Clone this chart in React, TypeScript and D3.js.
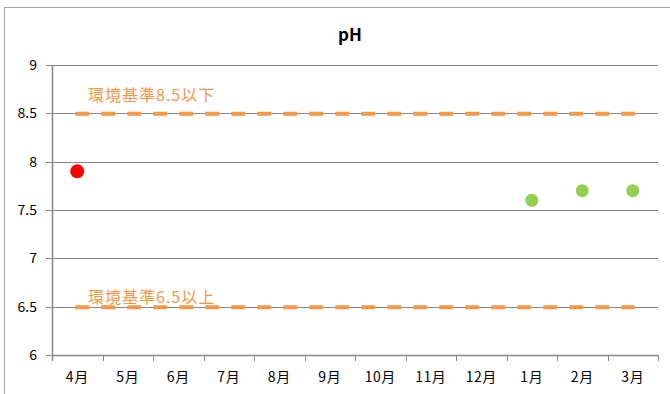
import React from "react";
import * as d3 from "d3";

const months = ["4月", "5月", "6月", "7月", "8月", "9月", "10月", "11月", "12月", "1月", "2月", "3月"];
const redPoints = [{ m: "4月", v: 7.9 }];
const greenPoints = [
  { m: "1月", v: 7.6 },
  { m: "2月", v: 7.7 },
  { m: "3月", v: 7.7 },
];
const yTicks = [6, 6.5, 7, 7.5, 8, 8.5, 9];
const standards = [
  { v: 8.5, label: "環境基準8.5以下" },
  { v: 6.5, label: "環境基準6.5以上" },
];
const title = "pH";

const W = 670;
const H = 394;
const plot = { left: 52, right: 658, top: 65, bottom: 355 };
const font = "'Noto Sans CJK JP', 'Noto Sans', sans-serif";
const gray = "#878787";
const orange = "#F79646";

export default function App() {
  const x = d3.scaleBand<string>().domain(months).range([plot.left, plot.right]);
  const y = d3.scaleLinear().domain([6, 9]).range([plot.bottom, plot.top]);
  const cx = (m: string) => (x(m) as number) + x.bandwidth() / 2;
  const bounds = [...months.map((m) => x(m) as number), plot.right];
  const lineStart = cx(months[0]) - 2;
  const lineEnd = cx(months[months.length - 1]) + 2;

  return (
    <svg width={W} height={H} style={{ position: "absolute", left: 0, top: 0 }}>
      <rect x={0} y={0} width={W} height={H} fill="#fff" />
      <rect x={4.5} y={7.5} width={720} height={420} fill="none" stroke="#a6a6a6" strokeWidth={1} />
      <text x={350} y={41} textAnchor="middle" fontFamily={font} fontWeight="bold" fontSize={17} fill="#000">
        {title}
      </text>
      {yTicks.map((t) => (
        <g key={t}>
          {t !== 6 && (
            <line x1={plot.left - 6} x2={plot.right} y1={Math.round(y(t)) + 0.5} y2={Math.round(y(t)) + 0.5} stroke={gray} strokeWidth={1} />
          )}
          {t === 6 && <line x1={plot.left - 6} x2={plot.left} y1={Math.round(y(t)) + 0.5} y2={Math.round(y(t)) + 0.5} stroke={gray} />}
          <text x={37} y={y(t) + 5} textAnchor="end" fontFamily={font} fontSize={14} fill="#000">
            {t}
          </text>
        </g>
      ))}
      <line x1={plot.left + 0.5} x2={plot.left + 0.5} y1={plot.top} y2={plot.bottom + 6} stroke={gray} strokeWidth={1.5} />
      <line x1={plot.left} x2={plot.right} y1={plot.bottom + 0.5} y2={plot.bottom + 0.5} stroke={gray} strokeWidth={1.5} />
      {bounds.map((b, i) => (
        <line key={i} x1={Math.round(b) + 0.5} x2={Math.round(b) + 0.5} y1={plot.bottom} y2={plot.bottom + 6} stroke={gray} />
      ))}
      {months.map((m) => (
        <text key={m} x={cx(m)} y={382} textAnchor="middle" fontFamily={font} fontSize={14} letterSpacing={0.5} fill="#000">
          {m}
        </text>
      ))}
      {standards.map((s, i) => (
        <g key={s.v}>
          <line
            x1={lineStart}
            x2={lineEnd}
            y1={y(s.v) + 0.5}
            y2={y(s.v) + 0.5}
            stroke={orange}
            strokeWidth={4}
            strokeDasharray="14 12"
          />
          <text x={88} y={i === 0 ? y(s.v) - 12 : y(s.v) - 4} fontFamily={font} fontSize={16} letterSpacing={1} fill={orange}>
            {s.label}
          </text>
        </g>
      ))}
      {redPoints.map((p) => (
        <circle key={p.m} cx={cx(p.m)} cy={y(p.v)} r={7} fill="#FF0000" />
      ))}
      {greenPoints.map((p) => (
        <circle key={p.m} cx={cx(p.m)} cy={y(p.v)} r={6.5} fill="#92D050" />
      ))}
    </svg>
  );
}
